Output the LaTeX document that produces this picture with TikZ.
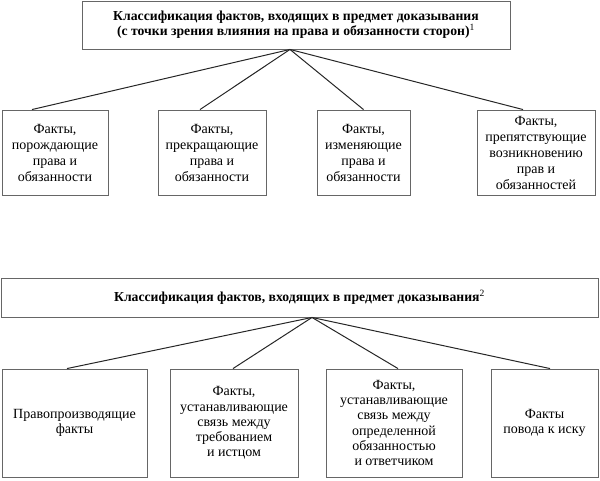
\documentclass[tikz,border=0pt]{standalone}
\usepackage{fontspec}
\setmainfont{Liberation Serif}
\usetikzlibrary{calc}
\begin{document}
\begin{tikzpicture}[x=1pt,y=-1pt,
  box/.style={draw=black!60, line width=0.9pt, rectangle, inner sep=0pt, align=center,
    font=\fontsize{14}{16}\selectfont},
  lowbox/.style={box, font=\fontsize{14}{15.2}\selectfont},
  titlebox/.style={box, font=\bfseries\fontsize{13.7}{15}\selectfont},
  conn/.style={draw=black!85, line width=1pt}]
\useasboundingbox (0,0) rectangle (600,480);
% top diagram
\node[titlebox, minimum width=428pt, minimum height=48pt] (t1) at (296,25)
  {Классификация фактов, входящих в предмет доказывания\\(с точки зрения влияния на права и обязанности сторон)\textsuperscript{\mdseries 1}};
\node[box, minimum width=106pt, minimum height=85pt] (b1) at (55,152.5) {Факты,\\порождающие\\права и\\обязанности};
\node[box, minimum width=108pt, minimum height=85pt] (b2) at (212,152.5) {Факты,\\прекращающие\\права и\\обязанности};
\node[box, minimum width=93pt, minimum height=85pt] (b3) at (363.5,152.5) {Факты,\\изменяющие\\права и\\обязанности};
\node[box, minimum width=118pt, minimum height=85pt] (b4) at (536,152.5) {Факты,\\препятствующие\\возникновению\\прав и\\обязанностей};
\coordinate (a1) at ([xshift=-6pt]t1.south);
\coordinate (e1) at ([xshift=-23pt]b1.north);
\coordinate (e2) at ([xshift=-12pt]b2.north);
\coordinate (e3) at (b3.north);
\coordinate (e4) at ([xshift=-13pt]b4.north);
\draw[conn] (a1) -- (e1);
\draw[conn] (a1) -- (e2);
\draw[conn] (a1) -- (e3);
\draw[conn] (a1) -- (e4);
% bottom diagram
\node[titlebox, minimum width=597pt, minimum height=39pt] (t2) at (299.5,297.5)
  {Классификация фактов, входящих в предмет доказывания\textsuperscript{\mdseries 2}};
\node[lowbox, minimum width=145pt, minimum height=108pt] (c1) at (74.5,423) {Правопроизводящие\\факты};
\node[lowbox, minimum width=128pt, minimum height=108pt] (c2) at (234,423) {Факты,\\устанавливающие\\связь между\\требованием\\и истцом};
\node[lowbox, minimum width=136pt, minimum height=108pt] (c3) at (394,423) {Факты,\\устанавливающие\\связь между\\определенной\\обязанностью\\и ответчиком};
\node[lowbox, minimum width=107pt, minimum height=108pt] (c4) at (544.5,423) {Факты\\повода к иску};
\coordinate (a2) at ([xshift=12.5pt]t2.south);
\coordinate (f1) at ([xshift=-7.5pt]c1.north);
\coordinate (f2) at ([xshift=-1pt]c2.north);
\coordinate (f3) at ([xshift=4pt]c3.north);
\coordinate (f4) at ([xshift=5.5pt]c4.north);
\draw[conn] (a2) -- (f1);
\draw[conn] (a2) -- (f2);
\draw[conn] (a2) -- (f3);
\draw[conn] (a2) -- (f4);
\end{tikzpicture}
\end{document}
